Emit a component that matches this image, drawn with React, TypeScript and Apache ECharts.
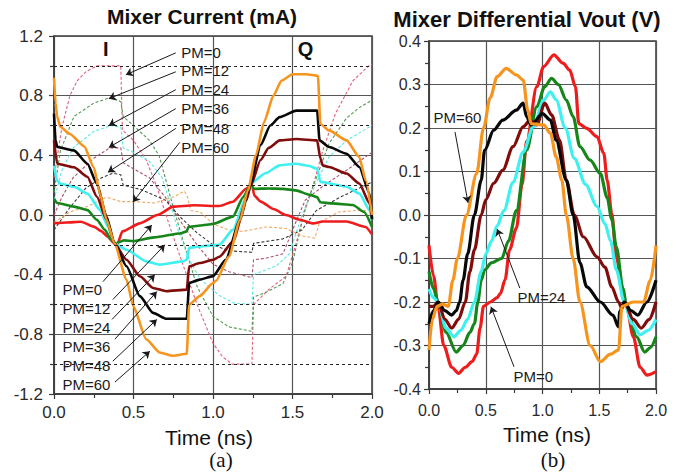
import React, { useEffect, useRef } from "react";
import * as echarts from "echarts";

const FONT = "'Liberation Sans', Arial, Helvetica, sans-serif";
const SERIF = "'Liberation Serif', 'Times New Roman', serif";

// ---------- (a) Mixer current (mA): solid curves (I path) ----------
const curPM0: number[][] = [[0,-0.055],[0.08,-0.05],[0.17,-0.045],[0.25,-0.078],[0.3,-0.11],[0.335,-0.144],[0.38,-0.19],[0.4,-0.19],[0.43,-0.11],[0.54,-0.056],[0.65,0.0],[0.75,0.056],[0.88,0.065],[1.04,0.06],[1.125,0.089],[1.21,0.178],[1.245,0.2],[1.26,0.13],[1.3,0.09],[1.38,0.04],[1.46,0.0],[1.54,-0.03],[1.63,-0.056],[1.69,-0.044],[1.84,-0.044],[1.96,-0.08],[2.0,-0.13]];
const curPM12: number[][] = [[0,0.11],[0.02,0.08],[0.125,0.056],[0.21,0.033],[0.27,-0.033],[0.32,-0.1],[0.36,-0.167],[0.39,-0.19],[0.44,-0.17],[0.5,-0.175],[0.63,-0.15],[0.8,-0.122],[0.835,-0.11],[0.845,-0.08],[0.92,-0.07],[1.0,-0.06],[1.125,-0.011],[1.19,0.12],[1.235,0.2],[1.26,0.175],[1.35,0.178],[1.44,0.175],[1.52,0.165],[1.61,0.135],[1.655,0.12],[1.675,0.085],[1.75,0.078],[1.88,0.067],[1.95,0.02],[2.0,-0.08]];
const curPM24: number[][] = [[0,0.33],[0.02,0.23],[0.04,0.21],[0.125,0.19],[0.21,0.144],[0.29,0.033],[0.34,-0.08],[0.38,-0.19],[0.456,-0.233],[0.58,-0.311],[0.665,-0.333],[0.81,-0.311],[0.835,-0.3],[0.85,-0.22],[0.917,-0.211],[1.04,-0.2],[1.125,-0.1],[1.21,0.122],[1.25,0.222],[1.33,0.28],[1.42,0.333],[1.52,0.344],[1.6,0.33],[1.655,0.31],[1.675,0.222],[1.84,0.189],[1.92,0.144],[1.985,0.033],[2.0,-0.033]];
const curPM36: number[][] = [[0,0.5],[0.02,0.344],[0.125,0.32],[0.21,0.256],[0.27,0.122],[0.33,-0.03],[0.38,-0.19],[0.456,-0.3],[0.54,-0.411],[0.623,-0.489],[0.707,-0.511],[0.835,-0.5],[0.85,-0.344],[0.916,-0.322],[1.0,-0.3],[1.04,-0.28],[1.125,-0.178],[1.21,0.1],[1.235,0.19],[1.3,0.37],[1.35,0.45],[1.42,0.5],[1.524,0.51],[1.655,0.5],[1.675,0.38],[1.69,0.333],[1.73,0.322],[1.84,0.278],[1.92,0.211],[1.985,0.078],[2.0,-0.02]];
const curPM48: number[][] = [[0,0.68],[0.01,0.5],[0.02,0.456],[0.125,0.433],[0.21,0.344],[0.27,0.21],[0.33,-0.01],[0.38,-0.19],[0.456,-0.344],[0.54,-0.544],[0.623,-0.656],[0.707,-0.696],[0.835,-0.696],[0.85,-0.456],[0.916,-0.433],[1.0,-0.41],[1.08,-0.3],[1.17,-0.033],[1.23,0.189],[1.3,0.47],[1.36,0.6],[1.419,0.656],[1.524,0.7],[1.655,0.7],[1.67,0.5],[1.73,0.456],[1.84,0.411],[1.92,0.322],[1.985,0.144],[2.0,-0.03]];
const curPM60: number[][] = [[0,0.92],[0.01,0.75],[0.02,0.66],[0.04,0.59],[0.1,0.543],[0.19,0.46],[0.25,0.32],[0.29,0.14],[0.33,-0.03],[0.38,-0.189],[0.456,-0.433],[0.498,-0.611],[0.58,-0.833],[0.665,-0.922],[0.749,-0.944],[0.835,-0.93],[0.85,-0.6],[0.916,-0.544],[1.0,-0.456],[1.02,-0.44],[1.1,-0.278],[1.17,-0.033],[1.22,0.167],[1.27,0.4],[1.32,0.62],[1.38,0.8],[1.43,0.9],[1.5,0.944],[1.586,0.944],[1.66,0.933],[1.675,0.61],[1.73,0.567],[1.84,0.5],[1.92,0.389],[1.96,0.233],[2.0,0.0]];

// ---------- (a) dashed curves (other path) ----------
const dashPM0: number[][] = [[0,0.25],[0.05,0.59],[0.1,0.8],[0.146,0.9],[0.2,0.96],[0.27,1.0],[0.42,1.0],[0.43,0.57],[0.5,0.5],[0.58,0.37],[0.65,0.18],[0.72,-0.05],[0.8,-0.3],[0.9,-0.6],[1.0,-0.86],[1.06,-0.95],[1.12,-1.0],[1.245,-1.0],[1.255,-0.6],[1.35,-0.5],[1.46,-0.41],[1.52,-0.2],[1.57,0.0],[1.63,0.2],[1.69,0.43],[1.77,0.68],[1.88,0.9],[1.98,1.0],[2.0,1.01]];
const dashPM12: number[][] = [[0,0.15],[0.04,0.43],[0.125,0.66],[0.25,0.75],[0.36,0.79],[0.42,0.76],[0.435,0.66],[0.5,0.6],[0.6,0.5],[0.66,0.4],[0.7,0.25],[0.75,0.05],[0.82,-0.2],[0.9,-0.48],[1.0,-0.68],[1.1,-0.75],[1.245,-0.78],[1.255,-0.55],[1.33,-0.52],[1.44,-0.46],[1.5,-0.32],[1.54,-0.14],[1.58,0.05],[1.65,0.25],[1.73,0.48],[1.84,0.65],[1.92,0.72],[2.0,0.77]];
const dashPM24: number[][] = [[0,0.1],[0.05,0.3],[0.12,0.45],[0.25,0.56],[0.36,0.6],[0.42,0.59],[0.435,0.45],[0.5,0.42],[0.6,0.36],[0.68,0.25],[0.73,0.08],[0.78,-0.1],[0.85,-0.3],[0.92,-0.43],[1.04,-0.54],[1.13,-0.59],[1.245,-0.6],[1.255,-0.4],[1.4,-0.34],[1.48,-0.26],[1.56,0.0],[1.65,0.22],[1.73,0.39],[1.84,0.5],[2.0,0.6]];
const dashPM36: number[][] = [[0,0.0],[0.05,0.12],[0.12,0.25],[0.25,0.38],[0.35,0.45],[0.42,0.45],[0.435,0.35],[0.5,0.31],[0.6,0.25],[0.7,0.12],[0.8,-0.05],[0.9,-0.2],[1.0,-0.33],[1.1,-0.38],[1.245,-0.42],[1.255,-0.3],[1.33,-0.29],[1.44,-0.26],[1.52,-0.05],[1.58,0.1],[1.7,0.2],[1.84,0.3],[2.0,0.42]];
const dashPM48: number[][] = [[0,-0.1],[0.1,0.05],[0.2,0.18],[0.3,0.25],[0.37,0.28],[0.42,0.27],[0.435,0.2],[0.55,0.17],[0.7,0.1],[0.8,-0.02],[0.9,-0.12],[1.0,-0.2],[1.1,-0.24],[1.245,-0.25],[1.255,-0.19],[1.44,-0.16],[1.56,-0.1],[1.65,0.03],[1.8,0.12],[2.0,0.22]];
const dashPM60: number[][] = [[0,-0.05],[0.1,0.02],[0.21,0.057],[0.33,0.12],[0.42,0.09],[0.5,0.09],[0.63,0.08],[0.75,0.12],[0.82,0.16],[0.84,0.12],[0.86,0.03],[0.92,0.02],[1.0,-0.06],[1.1,-0.1],[1.19,-0.11],[1.33,-0.08],[1.46,-0.09],[1.56,-0.14],[1.64,-0.155],[1.67,-0.05],[1.79,0.02],[1.9,0.03],[2.0,0.03]];

// ---------- (b) Mixer differential Vout (V) ----------
const voutPM0: number[][] = [[0,-0.07],[0.04,-0.14],[0.08,-0.21],[0.13,-0.3],[0.2,-0.35],[0.26,-0.364],[0.32,-0.35],[0.38,-0.337],[0.42,-0.32],[0.45,-0.26],[0.48,-0.21],[0.54,-0.2],[0.6,-0.19],[0.63,-0.18],[0.67,-0.149],[0.71,-0.08],[0.77,-0.03],[0.82,0.07],[0.86,0.17],[0.95,0.295],[1.01,0.341],[1.1,0.368],[1.18,0.349],[1.24,0.333],[1.29,0.295],[1.32,0.21],[1.39,0.199],[1.48,0.18],[1.54,0.142],[1.57,0.08],[1.61,0.004],[1.65,-0.096],[1.71,-0.18],[1.74,-0.21],[1.8,-0.28],[1.86,-0.35],[1.92,-0.368],[2.0,-0.36]];
const voutPM12: number[][] = [[0,-0.13],[0.04,-0.17],[0.08,-0.2],[0.15,-0.27],[0.24,-0.315],[0.3,-0.3],[0.36,-0.27],[0.4,-0.25],[0.43,-0.2],[0.46,-0.15],[0.49,-0.126],[0.55,-0.11],[0.64,-0.1],[0.7,-0.06],[0.77,0.01],[0.86,0.149],[0.95,0.249],[1.02,0.295],[1.08,0.314],[1.14,0.3],[1.21,0.264],[1.27,0.226],[1.33,0.157],[1.42,0.126],[1.51,0.095],[1.57,0.04],[1.61,-0.01],[1.65,-0.073],[1.71,-0.17],[1.74,-0.21],[1.83,-0.28],[1.9,-0.315],[1.95,-0.305],[2.0,-0.28]];
const voutPM24: number[][] = [[0,-0.17],[0.04,-0.19],[0.08,-0.2],[0.15,-0.26],[0.22,-0.28],[0.28,-0.265],[0.34,-0.24],[0.4,-0.2],[0.46,-0.13],[0.5,-0.09],[0.55,-0.06],[0.6,-0.025],[0.66,0.01],[0.74,0.075],[0.83,0.145],[0.92,0.203],[1.01,0.264],[1.07,0.283],[1.12,0.265],[1.2,0.2],[1.28,0.13],[1.38,0.07],[1.48,0.02],[1.55,-0.02],[1.6,-0.06],[1.65,-0.126],[1.72,-0.2],[1.79,-0.25],[1.86,-0.275],[1.93,-0.265],[2.0,-0.24]];
const voutPM36: number[][] = [[0,-0.21],[0.04,-0.21],[0.08,-0.2],[0.14,-0.24],[0.2,-0.26],[0.26,-0.24],[0.32,-0.2],[0.36,-0.13],[0.4,-0.08],[0.46,0.0],[0.5,0.035],[0.57,0.073],[0.65,0.103],[0.74,0.157],[0.83,0.203],[0.89,0.218],[0.95,0.207],[1.02,0.257],[1.08,0.23],[1.15,0.172],[1.21,0.08],[1.28,0.0],[1.36,-0.05],[1.48,-0.096],[1.55,-0.12],[1.61,-0.165],[1.67,-0.2],[1.7,-0.215],[1.72,-0.2],[1.8,-0.24],[1.87,-0.26],[1.94,-0.24],[2.0,-0.2]];
const voutPM48: number[][] = [[0,-0.25],[0.04,-0.22],[0.08,-0.2],[0.14,-0.22],[0.2,-0.23],[0.24,-0.22],[0.27,-0.2],[0.3,-0.15],[0.34,-0.09],[0.4,0.0],[0.46,0.08],[0.49,0.149],[0.57,0.195],[0.65,0.218],[0.77,0.241],[0.83,0.257],[0.86,0.226],[0.9,0.207],[1.0,0.233],[1.07,0.218],[1.12,0.172],[1.21,0.08],[1.27,0.0],[1.33,-0.11],[1.39,-0.165],[1.51,-0.2],[1.62,-0.23],[1.67,-0.257],[1.68,-0.222],[1.72,-0.2],[1.78,-0.22],[1.84,-0.23],[1.92,-0.2],[2.0,-0.15]];
const voutPM60: number[][] = [[0,-0.31],[0.03,-0.24],[0.07,-0.21],[0.12,-0.205],[0.17,-0.21],[0.21,-0.15],[0.25,-0.1],[0.33,0.0],[0.42,0.095],[0.48,0.2],[0.54,0.27],[0.6,0.318],[0.68,0.337],[0.77,0.322],[0.83,0.31],[0.87,0.241],[0.9,0.21],[1.01,0.207],[1.07,0.188],[1.12,0.134],[1.17,0.08],[1.21,0.0],[1.27,-0.1],[1.33,-0.2],[1.42,-0.3],[1.51,-0.337],[1.6,-0.32],[1.67,-0.31],[1.7,-0.21],[1.8,-0.2],[1.89,-0.2],[1.95,-0.15],[2.0,-0.07]];

// ---------- axes / ticks ----------
const xTicks = { min: 0, max: 2, interval: 0.5 };
const yTicksA = { min: -1.2, max: 1.2, interval: 0.4 };
const yTicksB = { min: -0.4, max: 0.4, interval: 0.1 };
const dottedLevelsA = [1.0, 0.6, 0.2, -0.2, -0.6, -1.0];

// ---------- annotations (data units) ----------
const pmNames = ["PM=0", "PM=12", "PM=24", "PM=36", "PM=48", "PM=60"];
const upperLabelPos: number[][] = [[0.797,1.087],[0.797,0.967],[0.797,0.84],[0.797,0.713],[0.797,0.58],[0.797,0.453]];
const upperArrows: number[][][] = [[[0.766,1.087],[0.452,0.94]],[[0.766,0.96],[0.345,0.78]],[[0.766,0.84],[0.345,0.6]],[[0.766,0.713],[0.345,0.453]],[[0.766,0.58],[0.339,0.287]],[[0.791,0.487],[0.496,0.087]]];
const lowerLabelPos: number[][] = [[0.05,-0.5],[0.05,-0.627],[0.05,-0.753],[0.05,-0.88],[0.05,-1.007],[0.05,-1.133]];
const lowerArrows: number[][][] = [[[0.308,-0.447],[0.615,-0.067]],[[0.37,-0.567],[0.697,-0.2]],[[0.365,-0.7],[0.634,-0.4]],[[0.383,-0.833],[0.647,-0.513]],[[0.37,-0.98],[0.647,-0.7]],[[0.383,-1.12],[0.603,-0.913]]];
const phaseLabels = [{ text: "I", at: [0.326, 1.113] }, { text: "Q", at: [1.582, 1.113] }];
const voutLabels = [{ text: "PM=60", at: [0.035, 0.223] }, { text: "PM=24", at: [0.775, -0.189] }, { text: "PM=0", at: [0.74, -0.372] }];
const voutArrows: number[][][] = [[[0.229,0.191],[0.344,0.028]],[[0.8,-0.168],[0.6,-0.032]],[[0.749,-0.349],[0.546,-0.211]]];

const solidColors = ["#ee1c1c", "#16861a", "#3ff0f0", "#800c0c", "#080808", "#f7941d"];
const dashColors = ["#e2607a", "#4f9a4f", "#5ee6e6", "#a8506a", "#3a3a3a", "#f0a860"];

const curA = [curPM0, curPM12, curPM24, curPM36, curPM48, curPM60];
const dashA = [dashPM0, dashPM12, dashPM24, dashPM36, dashPM48, dashPM60];
const voutB = [voutPM0, voutPM12, voutPM24, voutPM36, voutPM48, voutPM60];

const fmt = (v: number) => (Math.abs(v) < 1e-9 ? "0.0" : v.toFixed(1));
const AX = "#3a3a3a";

function makeX(gridIndex: number, margin: number, fontSize: number) {
  return {
    gridIndex, type: "value", ...xTicks,
    axisLine: { show: true, onZero: false, lineStyle: { color: AX, width: 1.5 } },
    axisTick: { show: true, length: 5, lineStyle: { color: AX, width: 1.2 } },
    minorTick: { show: true, splitNumber: 2, length: 4, lineStyle: { color: AX, width: 1.2 } },
    splitLine: { show: true, lineStyle: { color: "#555", width: 1.2 } },
    axisLabel: { formatter: fmt, fontSize, color: "#2a2a2a", fontFamily: FONT, margin },
  };
}
function makeY(gridIndex: number, ticks: any, margin: number, fontSize: number) {
  return {
    gridIndex, type: "value", ...ticks,
    axisLine: { show: true, onZero: false, lineStyle: { color: AX, width: 1.5 } },
    axisTick: { show: true, length: 5, lineStyle: { color: AX, width: 1.2 } },
    minorTick: { show: true, splitNumber: 2, length: 4, lineStyle: { color: AX, width: 1.2 } },
    splitLine: { show: true, lineStyle: { color: "#555", width: 1.2 } },
    axisLabel: { formatter: fmt, fontSize, color: "#2a2a2a", fontFamily: FONT, margin },
  };
}

function arrowLines(arrows: number[][][]) {
  return {
    silent: true,
    symbol: ["none", "arrow"],
    symbolSize: 7,
    label: { show: false },
    emphasis: { disabled: true },
    lineStyle: { color: "#1a1a1a", width: 1, type: "solid" },
    data: arrows.map((a) => [{ coord: a[0] }, { coord: a[1] }]),
  };
}

function textPoints(items: { name: string; at: number[]; label: any }[]) {
  return {
    silent: true,
    symbol: "circle",
    symbolSize: 1,
    itemStyle: { color: "rgba(0,0,0,0)" },
    emphasis: { disabled: true },
    data: items.map((it) => ({ name: it.name, coord: it.at, value: it.name, label: it.label })),
  };
}

export default function App() {
  const ref = useRef<HTMLDivElement>(null);
  useEffect(() => {
    const chart = echarts.init(ref.current!, null, { renderer: "svg" });

    const pmLabel = { show: true, position: "right", distance: 0, color: "#1a1a1a", fontSize: 15, fontFamily: FONT, formatter: "{b}" };
    const phaseLabel = { show: true, position: "inside", color: "#111", fontSize: 20, fontWeight: "bold", fontFamily: FONT, formatter: "{b}" };

    const series: any[] = [];
    dashA.forEach((d, i) => {
      series.push({
        type: "line", xAxisIndex: 0, yAxisIndex: 0, data: d, symbol: "none", silent: true,
        lineStyle: { color: dashColors[i], width: 1.1, type: [3, 2] },
        ...(i === 0 ? {
          markLine: {
            silent: true, symbol: "none", label: { show: false }, emphasis: { disabled: true },
            lineStyle: { color: "#222", width: 1, type: [3, 3] },
            data: dottedLevelsA.map((v) => ({ yAxis: v })),
          },
        } : {}),
      });
    });
    curA.forEach((d, i) => {
      series.push({
        type: "line", xAxisIndex: 0, yAxisIndex: 0, data: d, symbol: "none", silent: true,
        smooth: 0.2, smoothMonotone: "x",
        lineStyle: { color: solidColors[i], width: 2.6 },
        ...(i === 5 ? {
          markLine: arrowLines([...upperArrows, ...lowerArrows]),
          markPoint: textPoints([
            ...pmNames.map((n, k) => ({ name: n, at: upperLabelPos[k], label: pmLabel })),
            ...pmNames.map((n, k) => ({ name: n, at: lowerLabelPos[k], label: pmLabel })),
            ...phaseLabels.map((p) => ({ name: p.text, at: p.at, label: phaseLabel })),
          ]),
        } : {}),
      });
    });
    voutB.forEach((d, i) => {
      series.push({
        type: "line", xAxisIndex: 1, yAxisIndex: 1, data: d, symbol: "none", silent: true,
        smooth: 0.3, smoothMonotone: "x",
        lineStyle: { color: solidColors[i], width: 3.2 },
        ...(i === 5 ? {
          markLine: arrowLines(voutArrows),
          markPoint: textPoints(voutLabels.map((l) => ({ name: l.text, at: l.at, label: pmLabel }))),
        } : {}),
      });
    });

    const txt = (text: string, x: number, y: number, size: number, weight: string, family: string) => ({
      type: "text", x, y, silent: true,
      style: { text, fontSize: size, fontWeight: weight, fontFamily: family, fill: "#111", align: "center", verticalAlign: "middle" },
    });

    chart.setOption({
      animation: false,
      backgroundColor: "#ffffff",
      grid: [
        { left: 54, top: 36, width: 318, height: 358, show: true, borderColor: AX, borderWidth: 1.5, backgroundColor: "transparent" },
        { left: 429, top: 41, width: 227, height: 348, show: true, borderColor: AX, borderWidth: 1.5, backgroundColor: "transparent" },
      ],
      xAxis: [makeX(0, 10, 17), makeX(1, 13, 16)],
      yAxis: [makeY(0, yTicksA, 11, 17), makeY(1, yTicksB, 8, 16)],
      series,
      graphic: [
        txt("Mixer Current (mA)", 202, 16, 21, "bold", FONT),
        txt("Mixer Differential Vout (V)", 527, 19, 22, "bold", FONT),
        txt("Time (ns)", 209, 437, 21, "normal", FONT),
        txt("Time (ns)", 547, 434, 21, "normal", FONT),
        txt("(a)", 221, 460, 21, "normal", SERIF),
        txt("(b)", 553, 460, 21, "normal", SERIF),
      ],
    });
    return () => chart.dispose();
  }, []);
  return (
    <div
      ref={ref}
      style={{ position: "fixed", left: 0, top: 0, width: 679, height: 474, background: "#fff" }}
    />
  );
}
